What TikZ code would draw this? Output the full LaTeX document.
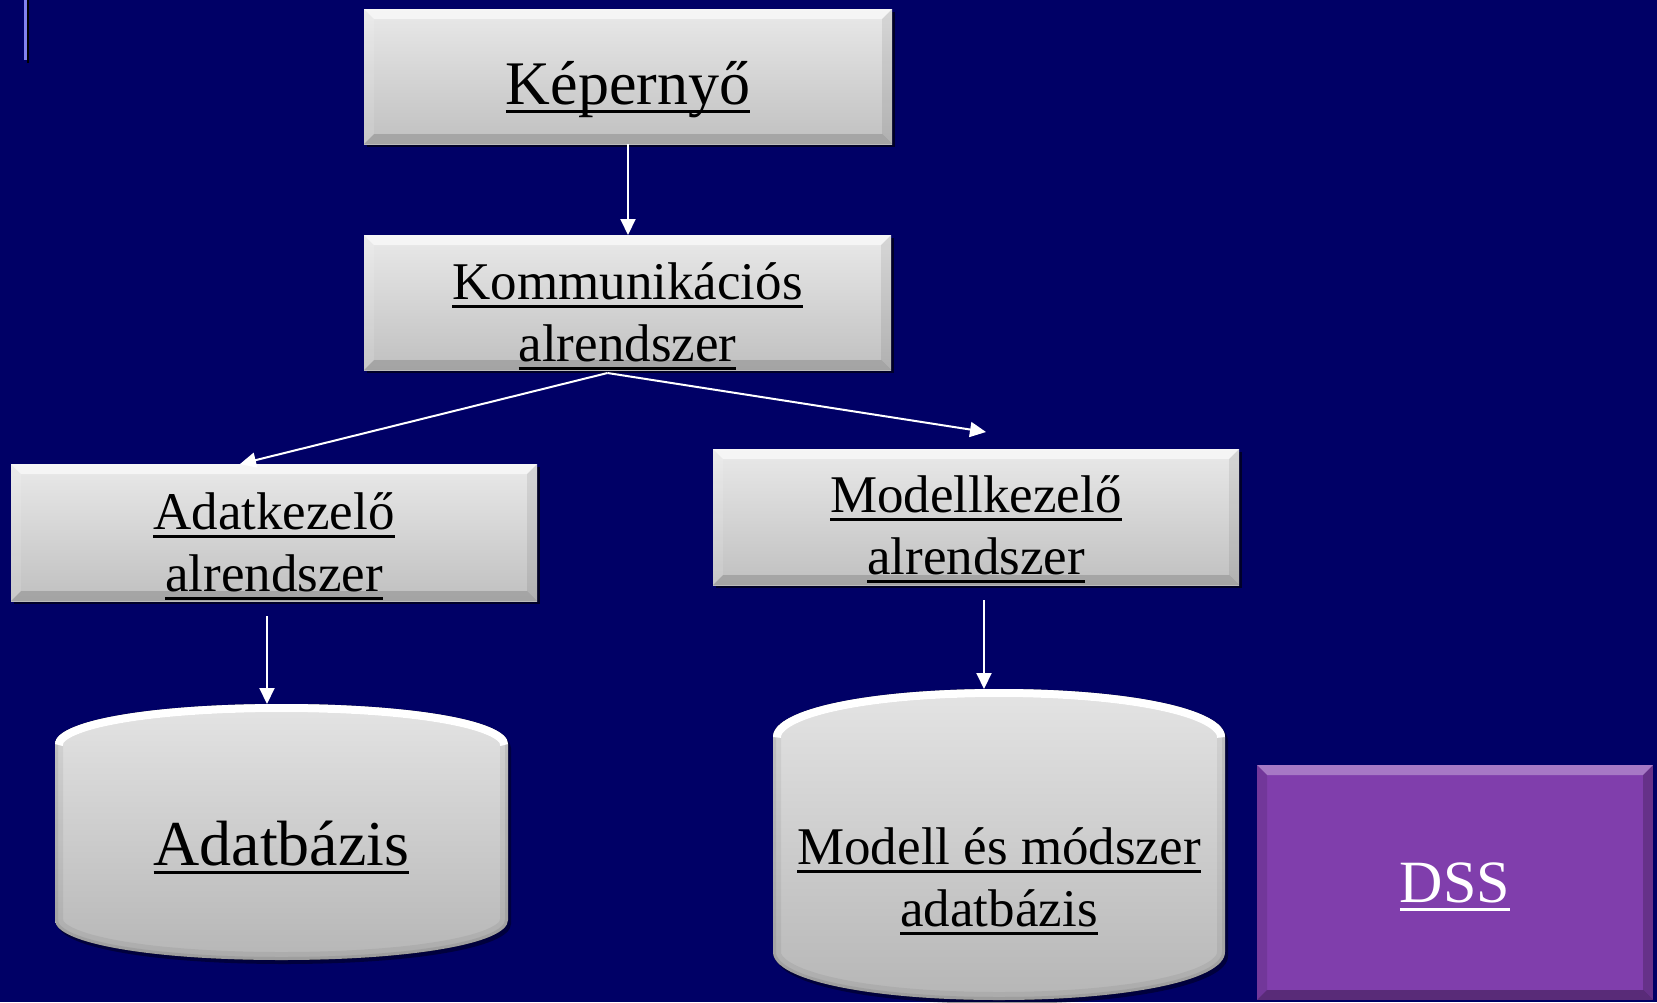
\documentclass[tikz,border=0pt]{standalone}
\usepackage{fontspec}
\setmainfont{Liberation Serif}
\usetikzlibrary{arrows.meta,shadows}

\definecolor{navy}{RGB}{0,0,102}
\definecolor{boxtop}{RGB}{233,233,233}
\definecolor{boxbot}{RGB}{192,192,192}
\definecolor{cyltop}{RGB}{228,228,228}
\definecolor{cylbot}{RGB}{182,182,182}
\definecolor{dsspurple}{RGB}{128,62,172}
\definecolor{rulecol}{RGB}{130,130,240}

% underlined word: a 3pt rule 5.5pt under the baseline, in the current colour
\newcommand\ulin[1]{\setbox0\hbox{#1}\rlap{\copy0}\rule[-8.5pt]{\wd0}{3pt}}

% centred text block, lowered inside its node without changing the node size
\newcommand\lowtext[2]{\raisebox{-#1}[\height][\depth]{\begin{tabular}{@{}c@{}}#2\end{tabular}}}

% outline of a drum: left, right, top, bottom, dome height
\newcommand\drumpath[5]{(#1,#4-#5) -- (#1,#3+#5)
  .. controls (#1,#3+#5*0.4) and ({#1+(#2-#1)*0.22},#3) .. ({(#1+#2)/2},#3)
  .. controls ({#2-(#2-#1)*0.22},#3) and (#2,#3+#5*0.4) .. (#2,#3+#5)
  -- (#2,#4-#5)
  .. controls (#2,#4-#5*0.4) and ({#2-(#2-#1)*0.22},#4) .. ({(#1+#2)/2},#4)
  .. controls ({#1+(#2-#1)*0.22},#4) and (#1,#4-#5*0.4) .. cycle}
\newcommand\drumtop[5]{(#1,#3+#5)
  .. controls (#1,#3+#5*0.4) and ({#1+(#2-#1)*0.22},#3) .. ({(#1+#2)/2},#3)
  .. controls ({#2-(#2-#1)*0.22},#3) and (#2,#3+#5*0.4) .. (#2,#3+#5)}
\newcommand\drum[5]{%
  \fill[black,opacity=0.4,shift={(3,4)}] \drumpath{#1}{#2}{#3}{#4}{#5};
  \fill[top color=cyltop,bottom color=cylbot] \drumpath{#1}{#2}{#3}{#4}{#5};
  \begin{scope}
    \clip \drumpath{#1}{#2}{#3}{#4}{#5};
    \draw[black,opacity=0.06,line width=16pt] \drumpath{#1}{#2}{#3}{#4}{#5};
    \draw[black,opacity=0.08,line width=6pt] \drumpath{#1}{#2}{#3}{#4}{#5};
    \draw[white,line width=16pt] \drumtop{#1}{#2}{#3}{#4}{#5};
  \end{scope}}

\tikzset{
  bevel/.style n args={4}{path picture={
    \fill[#1] (path picture bounding box.north west) -- (path picture bounding box.north east)
      -- ([shift={(-10pt,-10pt)}]path picture bounding box.north east)
      -- ([shift={(10pt,-10pt)}]path picture bounding box.north west) -- cycle;
    \fill[#2] (path picture bounding box.north west) -- ([shift={(10pt,-10pt)}]path picture bounding box.north west)
      -- ([shift={(10pt,10pt)}]path picture bounding box.south west) -- (path picture bounding box.south west) -- cycle;
    \fill[#3] (path picture bounding box.north east) -- ([shift={(-10pt,-10pt)}]path picture bounding box.north east)
      -- ([shift={(-10pt,10pt)}]path picture bounding box.south east) -- (path picture bounding box.south east) -- cycle;
    \fill[#4] (path picture bounding box.south west) -- ([shift={(10pt,10pt)}]path picture bounding box.south west)
      -- ([shift={(-10pt,10pt)}]path picture bounding box.south east) -- (path picture bounding box.south east) -- cycle;
  }},
  graybox/.style={rectangle, inner sep=0pt, outer sep=0pt,
    top color=boxtop, bottom color=boxbot, text=black,
    bevel={white,opacity=0.6}{white,opacity=0.12}{black,opacity=0.08}{black,opacity=0.15},
    drop shadow={shadow xshift=3pt, shadow yshift=-3pt, opacity=0.6, fill=black},
    font=\fontsize{53}{62}\selectfont},
  dssbox/.style={rectangle, inner sep=0pt, outer sep=0pt, fill=dsspurple, text=white,
    bevel={white,opacity=0.3}{black,opacity=0.1}{black,opacity=0.2}{black,opacity=0.3},
    font=\fontsize{60}{72}\selectfont},
  drumnode/.style={rectangle, inner sep=0pt, outer sep=0pt, text=black},
  arr/.style={draw=white, line width=2pt, -{Triangle[length=16pt,width=15pt]}}
}

\begin{document}
\begin{tikzpicture}[x=1pt,y=-1pt]
  \fill[navy] (0,0) rectangle (1657,1002);
  \useasboundingbox (0,0) rectangle (1657,1002);

  % thin accent rule in the top left corner
  \draw[line width=2.7pt, black] (28,0) -- (28,62.5);
  \draw[line width=2.7pt, rulecol] (25.3,0) -- (25.3,60);

  % subsystem boxes
  \node[graybox, minimum width=528pt, minimum height=135pt, font=\fontsize{62}{74}\selectfont]
    (kep) at (628,76.5) {\lowtext{13pt}{\ulin{Képernyő}}};
  \node[graybox, minimum width=527pt, minimum height=135pt]
    (kom) at (627.5,302.5) {\lowtext{16pt}{\ulin{Kommunikációs}\\\ulin{alrendszer}}};
  \node[graybox, minimum width=526pt, minimum height=137pt]
    (adk) at (274,532.5) {\lowtext{16pt}{\ulin{Adatkezelő}\\\ulin{alrendszer}}};
  \node[graybox, minimum width=526pt, minimum height=136pt]
    (mdk) at (976,517) {\lowtext{14pt}{\ulin{Modellkezelő}\\\ulin{alrendszer}}};

  % databases
  \drum{55}{508}{704}{960}{40}
  \node[drumnode, minimum width=453pt, minimum height=256pt, font=\fontsize{64}{76}\selectfont]
    (adb) at (281.5,832) {\lowtext{18pt}{\ulin{Adatbázis}}};
  \drum{773}{1225}{689}{1000}{48}
  \node[drumnode, minimum width=452pt, minimum height=311pt, font=\fontsize{53}{62}\selectfont]
    (mdb) at (999,844.5) {\lowtext{39pt}{\ulin{Modell és módszer}\\\ulin{adatbázis}}};

  % system label
  \node[dssbox, minimum width=396pt, minimum height=235pt]
    (dss) at (1455,882.5) {\lowtext{6pt}{\ulin{DSS}}};

  % connectors
  \draw[arr] (kep.south) -- (kep.south |- kom.north);
  \coordinate (fork) at ([xshift=-20pt,yshift=-3pt]kom.south);
  \draw[arr] (fork) -- ([xshift=-34pt]adk.north);
  \draw[arr] (fork) -- ([xshift=10pt,yshift=17pt]mdk.north);
  \draw[arr] ([xshift=-7pt,yshift=-15pt]adk.south) -- ([xshift=-14.5pt]adb.north);
  \draw[arr] ([xshift=8pt,yshift=-15pt]mdk.south) -- ([xshift=-15pt]mdb.north);
\end{tikzpicture}
\end{document}
